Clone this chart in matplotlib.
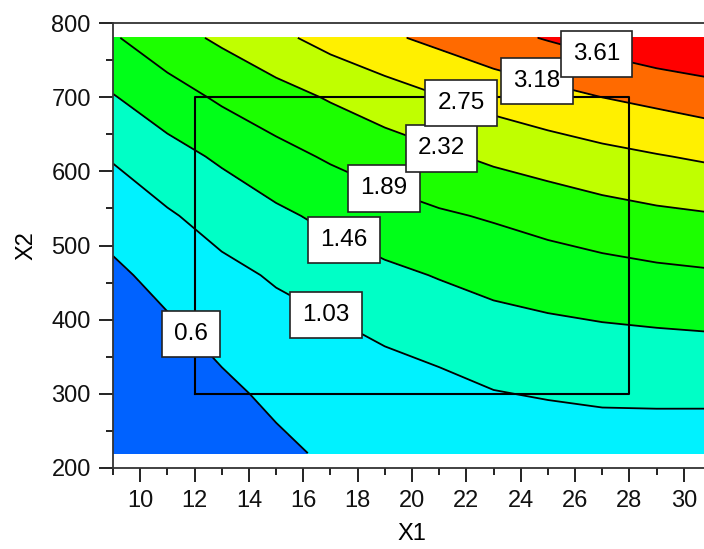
import numpy as np
import matplotlib
matplotlib.use("Agg")
import matplotlib.pyplot as plt
from matplotlib.ticker import MultipleLocator

plt.rcParams['font.family'] = ['Liberation Sans', 'DejaVu Sans']

# response surface values (rows: X2, cols: X1)
x1_vals = [9, 11, 13, 15, 17, 19, 21, 23, 25, 27, 29, 31]
x2_vals = [220, 300, 380, 460, 540, 620, 700, 780]
z_220 = [-0.300, 0.030, 0.296, 0.506, 0.667, 0.700, 0.780, 0.800, 0.780, 0.800, 0.800, 0.781]
z_300 = [-0.030, 0.269, 0.506, 0.689, 0.800, 0.802, 0.900, 1.012, 1.059, 1.099, 1.107, 1.113]
z_380 = [0.240, 0.507, 0.715, 0.872, 0.946, 1.087, 1.189, 1.287, 1.345, 1.388, 1.417, 1.443]
z_460 = [0.512, 0.746, 0.925, 1.072, 1.239, 1.371, 1.482, 1.588, 1.664, 1.734, 1.797, 1.840]
z_540 = [0.783, 0.985, 1.189, 1.379, 1.556, 1.714, 1.837, 1.931, 2.045, 2.154, 2.235, 2.291]
z_620 = [1.063, 1.307, 1.525, 1.752, 1.941, 2.100, 2.247, 2.401, 2.517, 2.629, 2.725, 2.813]
z_700 = [1.437, 1.703, 1.957, 2.159, 2.358, 2.551, 2.731, 2.904, 3.046, 3.182, 3.288, 3.403]
z_780 = [1.849, 2.154, 2.394, 2.649, 2.902, 3.107, 3.288, 3.480, 3.640, 3.794, 3.949, 4.040]

levels = [0.6, 1.03, 1.46, 1.89, 2.32, 2.75, 3.18, 3.61]
fill_colors = ['#0062ff', '#00f2ff', '#00ffc6', '#00ff18', '#1cff00',
               '#c0ff00', '#fff000', '#ff6a00', '#ff0000']

# design space box
box_x1 = [12, 28]
box_x2 = [300, 700]

# where the level labels sit
label_pos = [(11.8, 378), (16.8, 405), (17.5, 508), (19.0, 579),
             (21.1, 632), (21.8, 692), (24.6, 723), (26.8, 760)]

Z = np.array([z_220, z_300, z_380, z_460, z_540, z_620, z_700, z_780])
X, Y = np.meshgrid(x1_vals, x2_vals)

fig = plt.figure(figsize=(7.04, 5.49), dpi=100)
ax = fig.add_axes([113/704, 81/549, 598/704, 445/549])

ax.contourf(X, Y, Z, levels=[-1] + levels + [5], colors=fill_colors)
cs = ax.contour(X, Y, Z, levels=levels, colors='black', linewidths=1.3)

ax.plot([box_x1[0], box_x1[1], box_x1[1], box_x1[0], box_x1[0]],
        [box_x2[0], box_x2[0], box_x2[1], box_x2[1], box_x2[0]],
        color='black', lw=1.5)

txts = ax.clabel(cs, levels, inline=False, fmt='%g', fontsize=17.5,
                 manual=label_pos, colors='black')
for t in txts:
    t.set_rotation(0)
    t.set_bbox(dict(boxstyle='square,pad=0.5', facecolor='white',
                    edgecolor='#222222', lw=1.2))
    t.set_zorder(5)

ax.set_xlim(9, 31)
ax.set_ylim(200, 800)
ax.xaxis.set_minor_locator(MultipleLocator(1))
ax.yaxis.set_major_locator(MultipleLocator(100))
ax.yaxis.set_minor_locator(MultipleLocator(50))
ax.set_xticks(np.arange(10, 31, 2))
ax.tick_params(which='major', direction='out', length=10, width=1.3,
               labelsize=17, pad=6, colors='#111111')
ax.tick_params(which='minor', direction='out', length=5, width=1.3,
               colors='#111111')
ax.spines['right'].set_visible(False)
for s in ['left', 'bottom', 'top']:
    ax.spines[s].set_linewidth(1.3)
    ax.spines[s].set_color('#333333')

ax.set_xlabel('X1', fontsize=17, labelpad=8)
ax.set_ylabel('X2', fontsize=17, labelpad=10)

fig.savefig('out.png', dpi=100)
